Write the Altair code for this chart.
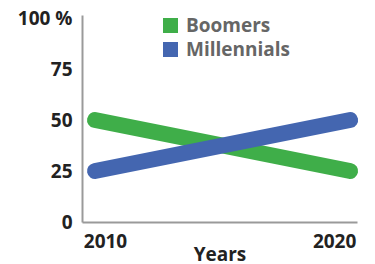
import altair as alt
import pandas as pd

years = [2010, 2020]
boomers = [50, 25]
millennials = [25, 50]
series = ["Boomers", "Millennials"]
colors = ["#3fae49", "#4466b0"]
y_ticks = [0, 25, 50, 75, 100]

rows = []
for y, b, m in zip(years, boomers, millennials):
    rows.append({"year": y, "value": b, "group": "Boomers"})
    rows.append({"year": y, "value": m, "group": "Millennials"})
df = pd.DataFrame(rows)

FONT = "Open Sans"

x_enc = alt.X("year:Q",
              scale=alt.Scale(domain=[2009.49, 2020.27], nice=False, zero=False),
              axis=alt.Axis(values=years, title="Years", format="d",
                            ticks=False, grid=False,
                            domainColor="#9a9a9a", domainWidth=2,
                            labelFont=FONT, labelFontSize=19, labelFontWeight="bold",
                            labelColor="#222222", labelPadding=10,
                            labelOffset={"condition": {"test": "datum.value == 2010", "value": 10}, "value": -16},
                            titleFont=FONT, titleFontSize=19, titleFontWeight="bold",
                            titleColor="#222222", titlePadding=-6))
y_enc = alt.Y("value:Q",
              scale=alt.Scale(domain=[0, 101.5], nice=False),
              axis=alt.Axis(values=y_ticks, title=None, ticks=False, grid=False,
                            domainColor="#9a9a9a", domainWidth=2,
                            labelFont=FONT, labelFontSize=19, labelFontWeight="bold",
                            labelColor="#222222", labelPadding=10,
                            labelExpr="datum.value == 100 ? '100 %' : datum.label"))
color_scale = alt.Scale(domain=series, range=colors)

legend_layer = alt.Chart(df).mark_point(shape="square", filled=True, size=1, opacity=1).encode(
    x=x_enc, y=y_enc,
    color=alt.Color("group:N", scale=color_scale,
                    legend=alt.Legend(orient="none", legendX=79, legendY=1, title=None,
                                      symbolType="square", symbolSize=225,
                                      symbolStrokeWidth=0, symbolOpacity=1,
                                      labelFont=FONT, labelFontSize=19, labelFontWeight="bold",
                                      labelColor="#666666", labelOffset=6,
                                      rowPadding=4, padding=0)),
)

lines = alt.Chart(df).mark_line(strokeWidth=16, strokeCap="round").encode(
    x=x_enc, y=y_enc,
    color=alt.Color("group:N", scale=color_scale, legend=None),
)

chart = alt.layer(legend_layer, lines).properties(
    width=275, height=207,
    autosize=alt.AutoSizeParams(type="none"),
    padding={"left": 74, "top": 7, "right": 10, "bottom": 60},
).configure_view(stroke=None)

chart.save("out.html", embed_options={"renderer": "svg", "actions": False})
